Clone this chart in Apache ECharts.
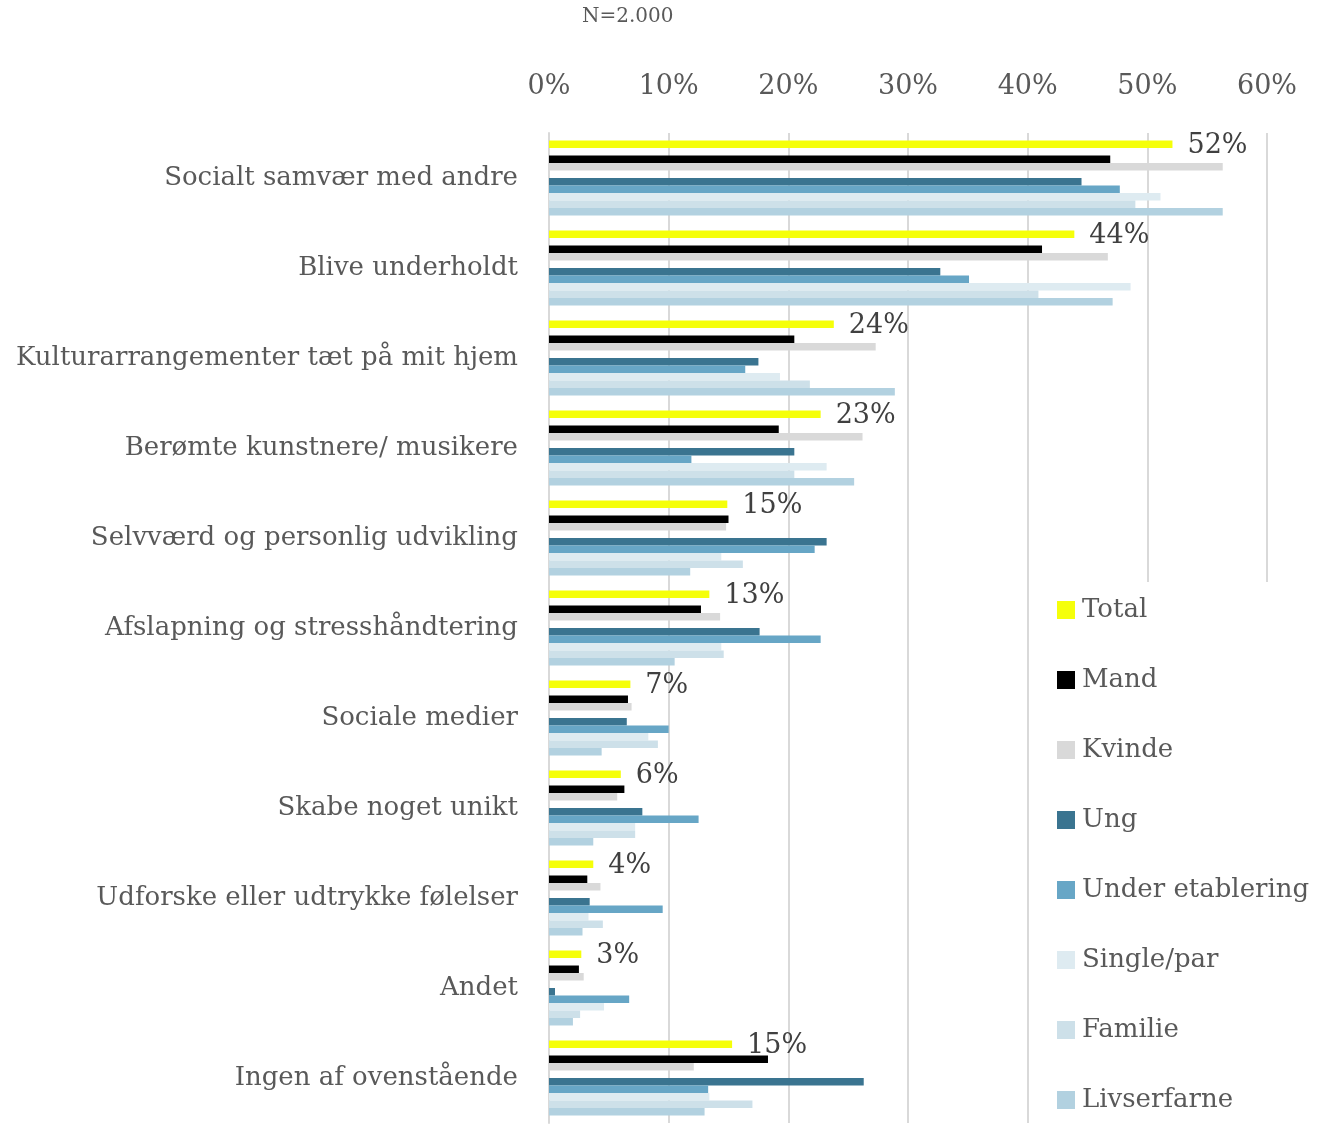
<!DOCTYPE html>
<html>
<head>
<meta charset="utf-8">
<script src="https://cdn.jsdelivr.net/npm/echarts@6/dist/echarts.min.js"></script>
<style>
  html, body { margin: 0; padding: 0; background: #fff; }
  #chart { width: 1329px; height: 1124px; }
</style>
</head>
<body>
<div id="chart"></div>
<script>
const categories = [
  'Socialt samvær med andre',
  'Blive underholdt',
  'Kulturarrangementer tæt på mit hjem',
  'Berømte kunstnere/ musikere',
  'Selvværd og personlig udvikling',
  'Afslapning og stresshåndtering',
  'Sociale medier',
  'Skabe noget unikt',
  'Udforske eller udtrykke følelser',
  'Andet',
  'Ingen af ovenstående'
];
const xTicks = [0, 10, 20, 30, 40, 50, 60];

// procent, læst af billedet
const total       = [52.1, 43.9, 23.8, 22.7, 14.9, 13.4, 6.8, 6.0, 3.7, 2.7, 15.3];
const mand        = [46.9, 41.2, 20.5, 19.2, 15.0, 12.7, 6.6, 6.3, 3.2, 2.5, 18.3];
const kvinde      = [56.3, 46.7, 27.3, 26.2, 14.8, 14.3, 6.9, 5.7, 4.3, 2.9, 12.1];
const ung         = [44.5, 32.7, 17.5, 20.5, 23.2, 17.6, 6.5, 7.8, 3.4, 0.5, 26.3];
const underEtabl  = [47.7, 35.1, 16.4, 11.9, 22.2, 22.7, 10.0, 12.5, 9.5, 6.7, 13.3];
const singlePar   = [51.1, 48.6, 19.3, 23.2, 14.4, 14.4, 8.3, 7.2, 3.3, 4.6, 13.4];
const familie     = [49.0, 40.9, 21.8, 20.5, 16.2, 14.6, 9.1, 7.2, 4.5, 2.6, 17.0];
const livserfarne = [56.3, 47.1, 28.9, 25.5, 11.8, 10.5, 4.4, 3.7, 2.8, 2.0, 13.0];

const seriesDefs = [
  { name: 'Total', data: total, color: '#f5ff0a' },
  { name: '_gap1', data: categories.map(() => null), color: 'transparent' },
  { name: 'Mand', data: mand, color: '#000000' },
  { name: 'Kvinde', data: kvinde, color: '#d9d9d9' },
  { name: '_gap2', data: categories.map(() => null), color: 'transparent' },
  { name: 'Ung', data: ung, color: '#3a7490' },
  { name: 'Under etablering', data: underEtabl, color: '#67a6c6' },
  { name: 'Single/par', data: singlePar, color: '#deebf1' },
  { name: 'Familie', data: familie, color: '#cde0e9' },
  { name: 'Livserfarne', data: livserfarne, color: '#b2d1e0' }
];

const font = 'DejaVu Serif';
const txt = '#595959';

const chart = echarts.init(document.getElementById('chart'));

const option = {
  animation: false,
  textStyle: { fontFamily: font },
  graphic: [{
    type: 'text', left: 582, top: 7,
    style: { text: 'N=2.000', font: '20px "DejaVu Serif"', fill: txt }
  }],
  legend: {
    orient: 'vertical',
    left: 1032, top: 582,
    padding: [15, 20, 10, 25],
    backgroundColor: '#ffffff',
    data: seriesDefs.filter(s => !s.name.startsWith('_')).map(s => s.name),
    icon: 'rect',
    itemWidth: 18, itemHeight: 18,
    itemGap: 44,
    textStyle: { fontFamily: font, fontSize: 26, color: txt, padding: [0, 0, 0, 2] }
  },
  grid: { left: 549, right: 62, top: 133, bottom: 1 },
  xAxis: {
    type: 'value', position: 'top',
    min: 0, max: 60, interval: 10,
    axisLine: { show: false },
    axisTick: { show: false },
    axisLabel: { formatter: '{value}%', fontSize: 27, color: txt, margin: 33 },
    splitLine: { lineStyle: { color: '#d9d9d9', width: 2 } }
  },
  yAxis: {
    type: 'category', inverse: true, data: categories,
    axisLine: { show: true, lineStyle: { color: '#d9d9d9', width: 2 } },
    axisTick: { show: false },
    axisLabel: { fontSize: 26, color: txt, margin: 31 }
  },
  series: seriesDefs.map((s, i) => ({
    name: s.name,
    type: 'bar',
    data: s.data,
    barGap: 0,
    barCategoryGap: '16.7%',
    itemStyle: { color: s.color },
    label: i === 0 ? {
      show: true, position: 'right', distance: 15, offset: [0, 2],
      formatter: p => Math.round(p.value) + '%',
      fontFamily: font, fontSize: 27, color: '#404040'
    } : { show: false }
  }))
};

chart.setOption(option);
</script>
</body>
</html>
